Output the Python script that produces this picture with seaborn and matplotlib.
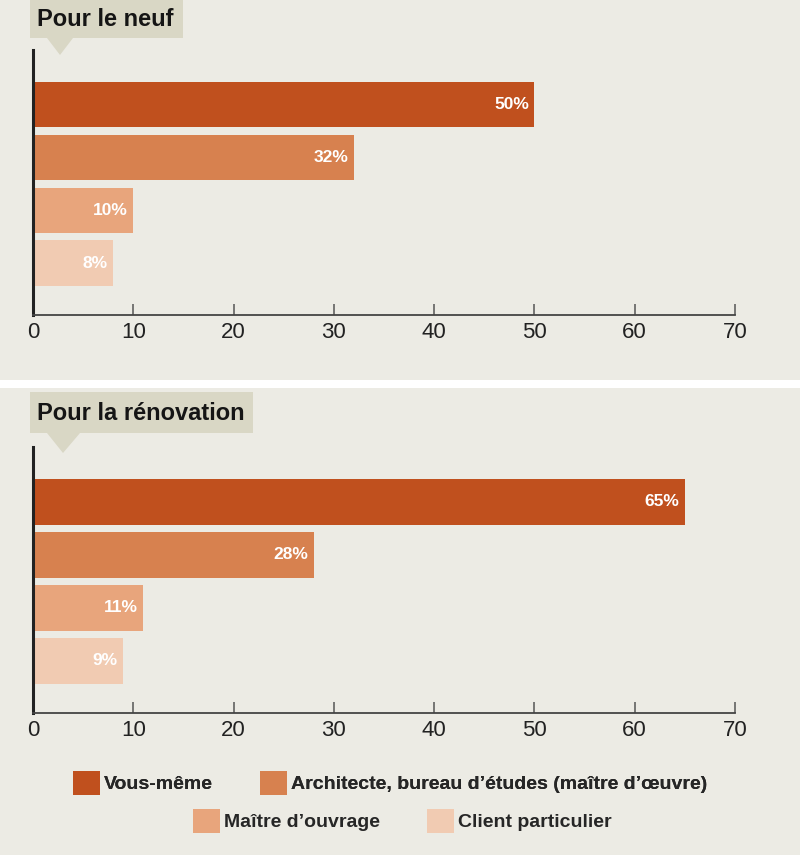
import matplotlib
matplotlib.use("Agg")
import matplotlib.pyplot as plt
from matplotlib.patches import Rectangle, Polygon, Patch
import pandas as pd
import seaborn as sns

# ------------------------ DATA ------------------------
categories = [
    "Vous-même",
    "Architecte, bureau d’études (maître d’œuvre)",
    "Maître d’ouvrage",
    "Client particulier",
]
neuf_values = [50, 32, 10, 8]
renovation_values = [65, 28, 11, 9]
panel_titles = ["Pour le neuf", "Pour la rénovation"]
x_ticks = [0, 10, 20, 30, 40, 50, 60, 70]
bar_colors = ["#c0501e", "#d7814f", "#e8a57c", "#f1cbb2"]

BG = "#ecebe4"
BOX = "#d9d7c5"
W, H = 800, 855
FONT = ["Liberation Sans", "DejaVu Sans"]

sns.set_theme(style="white")
plt.rcParams["font.family"] = FONT


def fx(x):
    return x / W


def fy(y):
    return 1 - y / H


def title_box(fig, text, x0, x1, y0, y1, tri):
    fig.add_artist(Rectangle((fx(x0), fy(y1)), fx(x1) - fx(x0), fy(y0) - fy(y1),
                             transform=fig.transFigure, facecolor=BOX, edgecolor="none"))
    fig.add_artist(Polygon([(fx(tri[0]), fy(y1)), (fx(tri[1]), fy(y1)), (fx(tri[2]), fy(tri[3]))],
                           closed=True, transform=fig.transFigure, facecolor=BOX, edgecolor="none"))
    fig.text(fx(x0 + 7), fy((y0 + y1) / 2 + 1), text, ha="left", va="center",
             fontsize=17, fontweight="bold", color="#151515")


def draw_panel(ax, values):
    df = pd.DataFrame({"category": categories, "value": values})
    sns.barplot(data=df, x="value", y="category", hue="category", palette=bar_colors,
                orient="h", width=0.86, saturation=1, legend=False, linewidth=0,
                edgecolor="none", ax=ax)
    for i, v in enumerate(values):
        ax.annotate(f"{v}%", xy=(v, i), xytext=(-4, 0), textcoords="offset points",
                    ha="right", va="center", color="white", fontsize=12.5, fontweight="bold")
    ax.set_facecolor(BG)
    ax.set_xlim(0, 70)
    ax.set_ylim(3.98, -1.03)
    ax.set_xticks(x_ticks)
    ax.set_xticklabels([str(t) for t in x_ticks])
    ax.set_yticks([])
    ax.set_xlabel("")
    ax.set_ylabel("")
    for s in ["top", "right"]:
        ax.spines[s].set_visible(False)
    ax.spines["left"].set_color("#222222")
    ax.spines["left"].set_linewidth(2.2)
    ax.spines["bottom"].set_color("#444444")
    ax.spines["bottom"].set_linewidth(1.3)
    ax.tick_params(axis="x", direction="in", length=8, width=1.1, color="#555555",
                   labelsize=16, labelcolor="#222222", pad=5, bottom=True)


fig = plt.figure(figsize=(W / 100, H / 100), dpi=100, facecolor=BG)

# white separator between panels
fig.add_artist(Rectangle((0, fy(388)), 1, fy(380) - fy(388), transform=fig.transFigure,
                         facecolor="white", edgecolor="none"))

ax1 = fig.add_axes([fx(33), fy(315), fx(735) - fx(33), (315 - 50) / H])
ax2 = fig.add_axes([fx(33), fy(713), fx(735) - fx(33), (713 - 447) / H])
draw_panel(ax1, neuf_values)
draw_panel(ax2, renovation_values)

title_box(fig, panel_titles[0], 30, 183, 0, 38, (47, 73, 60, 55))
title_box(fig, panel_titles[1], 30, 253, 392, 433, (47, 80, 63, 453))

# legend in two centred rows
handles = [Patch(facecolor=c, edgecolor="none", label=l) for c, l in zip(bar_colors, categories)]
leg_kw = dict(loc="center", ncol=2, frameon=False,
              handlelength=1.4, handleheight=1.45, handletextpad=0.2, columnspacing=2.4,
              prop={"weight": "bold", "size": 14})
leg1 = fig.legend(handles=handles[:2], bbox_to_anchor=(fx(390), fy(783)), **leg_kw)
fig.add_artist(leg1)
leg2 = fig.legend(handles=handles[2:], bbox_to_anchor=(fx(402), fy(821)), **leg_kw)

fig.savefig("out.png", dpi=100, facecolor=BG)
